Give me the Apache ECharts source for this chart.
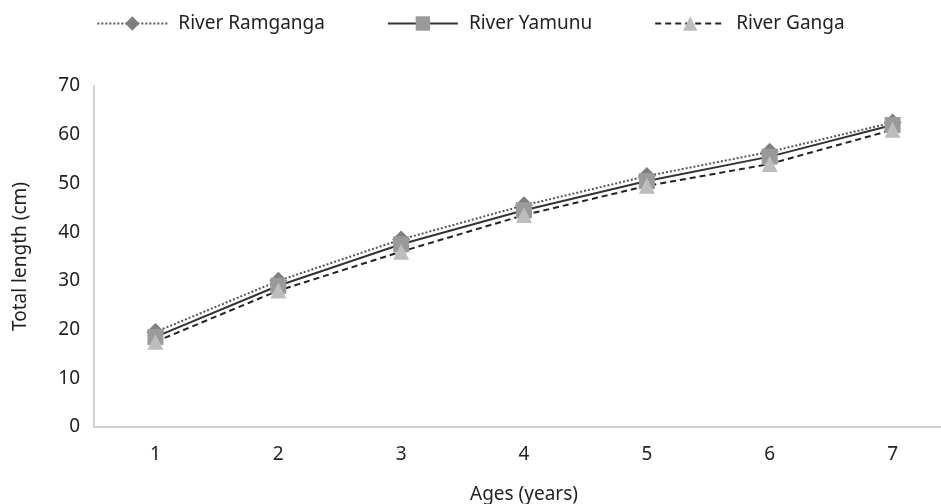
<!DOCTYPE html>
<html>
<head>
<meta charset="utf-8">
<script src="https://cdn.jsdelivr.net/npm/echarts@6/dist/echarts.min.js"></script>
<style>
  html, body { margin: 0; padding: 0; background: #fff; }
  #chart { width: 941px; height: 504px; }
</style>
</head>
<body>
<div id="chart"></div>
<script>
// ages on the x axis
const ages = ['1', '2', '3', '4', '5', '6', '7']
// total length (cm)
const ramganga = [19.5, 30, 38.5, 45.5, 51.5, 56.5, 62.5]
const yamunu = [18.5, 29, 37.5, 44.5, 50.5, 55.5, 62]
const ganga = [17.5, 28, 36, 43.5, 49.5, 54, 61]

const font = 'Noto Sans'

let myChart = echarts.init(document.getElementById('chart'))
myChart.setOption({
  animation: false,
  textStyle: { fontFamily: font },
  legend: {
    top: 9,
    left: 'center',
    itemWidth: 70,
    itemHeight: 18,
    itemGap: 62,
    textStyle: { fontSize: 19, color: '#222', padding: [0, 0, 0, 6] },
    data: ['River Ramganga', 'River Yamunu', 'River Ganga']
  },
  grid: {
    left: 94,
    top: 86,
    width: 860,
    height: 341,
    containLabel: false,
    outerBoundsMode: 'none'
  },
  xAxis: {
    type: 'category',
    data: ages,
    name: 'Ages (years)',
    nameLocation: 'middle',
    nameGap: 58,
    nameTextStyle: { fontSize: 19, color: '#222' },
    axisLine: { lineStyle: { color: '#d0d0d0', width: 2 } },
    axisTick: { show: false },
    axisLabel: { fontSize: 19, color: '#222', margin: 18 }
  },
  yAxis: {
    type: 'value',
    min: 0,
    max: 70,
    interval: 10,
    name: 'Total length (cm)',
    nameLocation: 'middle',
    nameGap: 64,
    nameTextStyle: { fontSize: 19, color: '#222' },
    axisLine: { show: true, lineStyle: { color: '#d0d0d0', width: 2 } },
    axisTick: { show: false },
    splitLine: { show: false },
    axisLabel: { fontSize: 19, color: '#222', margin: 14 }
  },
  series: [
    {
      name: 'River Ramganga',
      type: 'line',
      data: ramganga,
      symbol: 'diamond',
      symbolSize: 18,
      itemStyle: { color: '#7f7f7f' },
      lineStyle: { color: '#555', width: 2, type: 'dotted' }
    },
    {
      name: 'River Yamunu',
      type: 'line',
      data: yamunu,
      symbol: 'rect',
      symbolSize: 16,
      itemStyle: { color: '#9a9a9a' },
      lineStyle: { color: '#333', width: 2, type: 'solid' }
    },
    {
      name: 'River Ganga',
      type: 'line',
      data: ganga,
      symbol: 'triangle',
      symbolSize: 16,
      itemStyle: { color: '#bdbdbd' },
      lineStyle: { color: '#222', width: 2, type: [6, 4] }
    }
  ]
})
</script>
</body>
</html>
